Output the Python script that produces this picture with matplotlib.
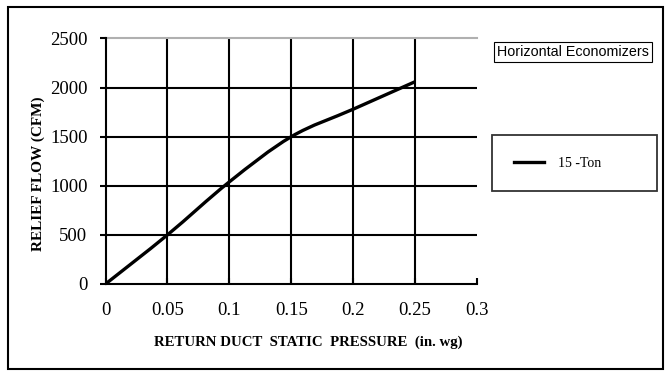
import matplotlib.pyplot as plt
from matplotlib.path import Path
from matplotlib.patches import PathPatch, Rectangle
from matplotlib.lines import Line2D

# valores
pressure = [0.0, 0.05, 0.10, 0.15, 0.20, 0.25]
relief_flow = [0, 500, 1040, 1500, 1780, 2060]
series_name = "15 -Ton"
x_ticks = [0, 0.05, 0.1, 0.15, 0.2, 0.25, 0.3]
x_tick_labels = ["0", "0.05", "0.1", "0.15", "0.2", "0.25", "0.3"]
y_ticks = [0, 500, 1000, 1500, 2000, 2500]

SERIF = "Liberation Serif"
SANS = "Liberation Sans"


def smooth_path(xs, ys):
    """Curva suavizada (estilo Excel) com segmentos Bezier cúbicos."""
    pts = list(zip(xs, ys))
    n = len(pts)
    verts = [pts[0]]
    codes = [Path.MOVETO]
    for i in range(n - 1):
        p0 = pts[max(i - 1, 0)]
        p1 = pts[i]
        p2 = pts[i + 1]
        p3 = pts[min(i + 2, n - 1)]
        c1 = (p1[0] + (p2[0] - p0[0]) / 6, p1[1] + (p2[1] - p0[1]) / 6)
        c2 = (p2[0] - (p3[0] - p1[0]) / 6, p2[1] - (p3[1] - p1[1]) / 6)
        verts += [c1, c2, p2]
        codes += [Path.CURVE4] * 3
    return Path(verts, codes)


fig = plt.figure(figsize=(6.67, 3.75), dpi=100)
ax = fig.add_axes([105.5 / 667, 1 - 284 / 375, (477 - 105.5) / 667, (284 - 38.5) / 375])

ax.add_patch(PathPatch(smooth_path(pressure, relief_flow), fill=False,
                       edgecolor="black", linewidth=2.4, capstyle="butt", zorder=3))

ax.set_xlim(0, 0.3)
ax.set_ylim(0, 2500)
ax.set_xticks(x_ticks)
ax.set_xticklabels(x_tick_labels)
ax.set_yticks(y_ticks)

# grade: linhas pretas, topo cinza
for x in x_ticks[1:-1]:
    ax.axvline(x, color="black", linewidth=1.5, zorder=1)
for y in y_ticks[1:-1]:
    ax.axhline(y, color="black", linewidth=1.5, zorder=1)
ax.axhline(2500, color="#b0b0b0", linewidth=1.5, zorder=1, clip_on=False)

for side in ["top", "right"]:
    ax.spines[side].set_visible(False)
for side in ["left", "bottom"]:
    ax.spines[side].set_linewidth(1.5)

ax.tick_params(axis="y", direction="out", length=4, width=1.5, pad=9)
ax.tick_params(axis="x", direction="in", length=4, width=1.5, pad=13)
for lab in ax.get_xticklabels() + ax.get_yticklabels():
    lab.set_fontfamily(SERIF)
    lab.set_fontsize(13.5)

ax.set_xlabel("RETURN DUCT  STATIC  PRESSURE  (in. wg)", fontfamily=SERIF,
              fontweight="bold", fontsize=10.7, va="center")
ax.set_ylabel("RELIEF FLOW (CFM)", fontfamily=SERIF, fontweight="bold",
              fontsize=11, va="center")
ax.xaxis.set_label_coords(0.546, -0.236)
ax.yaxis.set_label_coords(-0.182, 0.448)

# legenda
handle = Line2D([], [], color="black", linewidth=2.4)
leg = fig.legend([handle], [series_name], loc="center",
                 bbox_to_anchor=(492 / 667, 1 - 193 / 375, 165 / 667, 60 / 375),
                 mode="expand", borderaxespad=0, borderpad=1.55,
                 handlelength=2.2, handletextpad=1.0, fancybox=False,
                 prop={"family": SERIF, "size": 10})
leg.get_frame().set_edgecolor("black")
leg.get_frame().set_linewidth(1.3)

# título
fig.text(573 / 667, 1 - 52 / 375, "Horizontal Economizers", ha="center", va="center",
         fontfamily=SANS, fontsize=10.3,
         bbox=dict(boxstyle="square,pad=0.2", facecolor="white", edgecolor="black",
                   linewidth=0.8))

# moldura externa
fig.patches.append(Rectangle((8 / 667, 1 - 369 / 375), 655 / 667, 362 / 375,
                             transform=fig.transFigure, fill=False,
                             edgecolor="black", linewidth=1.5))

fig.savefig("out.png", dpi=100)
